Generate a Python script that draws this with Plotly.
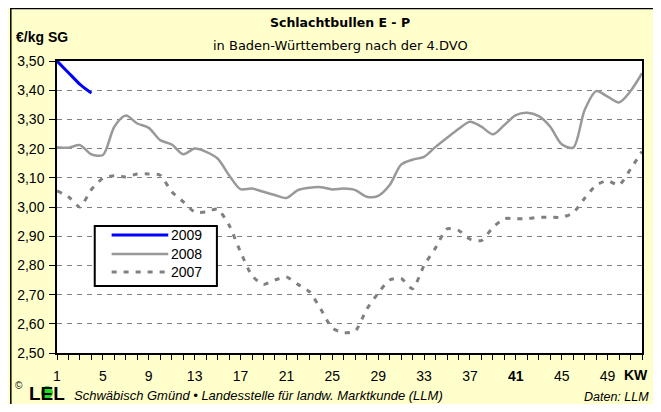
import plotly.graph_objects as go

# Kalenderwochen
weeks = list(range(1, 53))

# Preise in EUR/kg SG
price_2009 = [3.50, 3.46, 3.42, 3.39]

price_2008 = [3.205, 3.203, 3.212, 3.180, 3.178, 3.275, 3.313, 3.286, 3.271, 3.229,
              3.214, 3.181, 3.200, 3.189, 3.166, 3.109, 3.061, 3.063, 3.052, 3.041,
              3.031, 3.058, 3.066, 3.068, 3.060, 3.063, 3.058, 3.035, 3.038, 3.075,
              3.145, 3.162, 3.172, 3.206, 3.237, 3.267, 3.292, 3.275, 3.249, 3.281,
              3.315, 3.323, 3.311, 3.275, 3.215, 3.203, 3.332, 3.397, 3.378, 3.358,
              3.397, 3.458]

price_2007 = [3.055, 3.035, 3.000, 3.060, 3.098, 3.107, 3.103, 3.113, 3.113, 3.109,
              3.052, 3.018, 2.983, 2.983, 2.993, 2.938, 2.846, 2.765, 2.735, 2.750,
              2.760, 2.735, 2.710, 2.650, 2.585, 2.570, 2.575, 2.650, 2.705, 2.750,
              2.755, 2.720, 2.800, 2.860, 2.925, 2.920, 2.890, 2.885, 2.930, 2.960,
              2.960, 2.960, 2.965, 2.965, 2.965, 2.980, 3.030, 3.075, 3.090, 3.075,
              3.130, 3.190]

x_tickvals = [1, 5, 9, 13, 17, 21, 25, 29, 33, 37, 41, 45, 49]
x_ticktext = ['1', '5', '9', '13', '17', '21', '25', '29', '33', '37', '<b>41</b>', '45', '49']

series = [
    ('2009', price_2009, dict(color='#0000FF', width=3, shape='spline', smoothing=0.6)),
    ('2008', price_2008, dict(color='#999999', width=2.5, shape='spline', smoothing=0.8)),
    ('2007', price_2007, dict(color='#808080', width=3, dash='5px,7px', shape='spline', smoothing=0.6)),
]

# page has an 8px body margin, keep the figure inside the window
W, H = 645, 396
ML, MR, MT, MB = 47, 9, 53, 51
PW, PH = W - ML - MR, H - MT - MB

FONT = 'Liberation Sans, Arial, sans-serif'


# page pixel -> paper coordinate (plot area sits at page x 55..644, y 61..353)
def xp(px):
    return (px - 55) / PW


def yp(py):
    return 1 - (py - 61) / PH


def note(text, x, y, size, xanchor='center', family=FONT, color='black'):
    return dict(text=text, x=xp(x), y=yp(y), xref='paper', yref='paper',
                xanchor=xanchor, yanchor='middle', showarrow=False,
                font=dict(size=size, family=family, color=color))


fig = go.Figure()

for name, vals, line in series:
    fig.add_trace(go.Scatter(
        x=weeks[:len(vals)], y=vals, name=name, mode='lines',
        line=line, showlegend=False
    ))

# === RAHMEN / LOGO ===
shapes = [
    dict(type='line', xref='paper', yref='paper', x0=xp(8), x1=xp(655), y0=yp(8.5), y1=yp(8.5),
         line=dict(color='black', width=1.5)),
    dict(type='line', xref='paper', yref='paper', x0=xp(8.5), x1=xp(8.5), y0=yp(8), y1=yp(420),
         line=dict(color='black', width=1.5)),
]

annotations = [
    note('<b>Schlachtbullen E - P</b>', 340, 23, 12.5, family='DejaVu Sans'),
    note('in Baden-Württemberg nach der 4.DVO', 340, 46, 13, family='DejaVu Sans'),
    note('<b>€/kg SG</b>', 12, 37, 14, xanchor='left'),
    note('<b>KW</b>', 652, 375, 14, xanchor='right'),
    note('©', 17, 385, 10),
    note('<b>LEL</b>', 25, 393, 19, xanchor='left'),
    note('<i>Schwäbisch Gmünd • Landesstelle für landw. Marktkunde (LLM)</i>', 70, 395, 13, xanchor='left'),
    note('<i>Daten: LLM</i>', 653, 397, 12.5, xanchor='right'),
]

shapes.append(dict(type='circle', xref='paper', yref='paper', x0=xp(39), x1=xp(51), y0=yp(399), y1=yp(386),
                   fillcolor='#22DD22', line_width=0))

# === LEGENDE (Kasten wie im Original) ===
shapes.append(dict(type='rect', xref='paper', yref='paper', x0=xp(93), x1=xp(216), y0=yp(286), y1=yp(226),
                   fillcolor='white', line=dict(color='black', width=2)))
for (name, vals, line), ly in zip(series, [235, 254, 272]):
    sline = dict(color=line['color'], width=line['width'])
    if 'dash' in line:
        sline['dash'] = line['dash']
    shapes.append(dict(type='line', xref='paper', yref='paper', x0=xp(110), x1=xp(167),
                       y0=yp(ly), y1=yp(ly), line=sline))
    annotations.append(note(name, 168, ly, 14, xanchor='left'))

fig.update_layout(
    width=W, height=H,
    margin=dict(l=ML, r=MR, t=MT, b=MB),
    paper_bgcolor='#FFFFCC',
    plot_bgcolor='white',
    separators=',.',
    font=dict(family=FONT, size=14, color='black'),
    shapes=shapes,
    annotations=annotations,
    showlegend=False,
    xaxis=dict(
        range=[1, 52], tickmode='array', tickvals=x_tickvals, ticktext=x_ticktext,
        ticks='outside', ticklen=5, tickcolor='black', ticklabelstandoff=4,
        minor=dict(dtick=1, tick0=1, ticks='outside', ticklen=5, tickcolor='black', showgrid=False),
        showgrid=False, zeroline=False,
        showline=True, linecolor='black', linewidth=1.5, mirror=True,
        tickfont=dict(size=14, family=FONT),
    ),
    yaxis=dict(
        range=[2.5, 3.5], dtick=0.1, tick0=2.5, tickformat='.2f',
        ticks='outside', ticklen=6, tickcolor='black', ticklabelstandoff=2,
        showgrid=True, gridcolor='#808080', gridwidth=1, griddash='5px,5px',
        zeroline=False,
        showline=True, linecolor='black', linewidth=1.5, mirror=True,
        tickfont=dict(size=14, family=FONT),
    ),
)

fig.write_html("out.html")
